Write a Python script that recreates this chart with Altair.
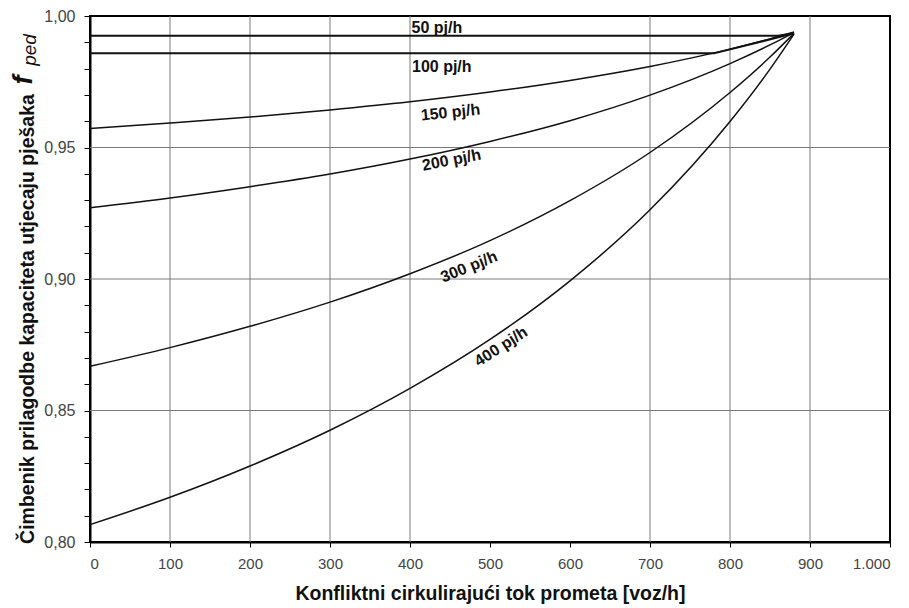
import altair as alt
import pandas as pd

# ---- data ----
x_flow = [0, 100, 200, 300, 400, 500, 600, 700, 800, 850, 880]
f150 = [0.9572, 0.9593, 0.9616, 0.9643, 0.9674, 0.9711, 0.9755, 0.9808, 0.9874, 0.9913, 0.9939]
f200 = [0.9271, 0.9308, 0.9351, 0.9399, 0.9456, 0.9523, 0.9602, 0.9699, 0.9819, 0.9890, 0.9937]
f300 = [0.8668, 0.8739, 0.8820, 0.8912, 0.9020, 0.9146, 0.9298, 0.9481, 0.9709, 0.9844, 0.9934]
f400 = [0.8066, 0.8170, 0.8289, 0.8425, 0.8584, 0.8770, 0.8993, 0.9263, 0.9599, 0.9798, 0.9931]

x50 = [0, 860, 880]
f50 = [0.9925, 0.9925, 0.9934]
x100 = [0, 780, 880]
f100 = [0.9858, 0.9858, 0.9934]

flat_labels = ["50 pj/h", "100 pj/h"]
flat_label_x = [402, 402.5]
flat_label_y = [0.99365, 0.97882]

curve_labels = ["150 pj/h", "200 pj/h", "300 pj/h", "400 pj/h"]
curve_label_x = [450.6, 452, 473.8, 513.8]
curve_label_y = [0.9633, 0.9452, 0.9046, 0.8743]
curve_label_angle = [354, 349, 338, 327]

x_grid = [100, 200, 300, 400, 700, 800, 900]
y_grid = [0.85, 0.90, 0.95]

x_ticks = [0, 100, 200, 300, 400, 500, 600, 700, 800, 900, 1000]
y_ticks = [0.80, 0.81, 0.82, 0.83, 0.84, 0.85, 0.86, 0.87, 0.88, 0.89, 0.90,
           0.91, 0.92, 0.93, 0.94, 0.95, 0.96, 0.97, 0.98, 0.99, 1.00]

x_title = "Konfliktni cirkulirajući tok prometa [voz/h]"
y_title = "Čimbenik prilagodbe kapaciteta utjecaju pješaka"

FONT = "Liberation Sans, Arial, Helvetica, sans-serif"

# ---- tables ----
curves = pd.concat([
    pd.DataFrame({"q": x_flow, "f": vals, "s": name})
    for name, vals in [("150", f150), ("200", f200), ("300", f300), ("400", f400)]
])
flats = pd.concat([
    pd.DataFrame({"q": x50, "f": f50, "s": "50"}),
    pd.DataFrame({"q": x100, "f": f100, "s": "100"}),
])
flat_lab = pd.DataFrame({"t": flat_labels, "q": flat_label_x, "f": flat_label_y})
curve_lab = pd.DataFrame({"t": curve_labels, "q": curve_label_x, "f": curve_label_y,
                          "a": curve_label_angle})

xs = alt.Scale(domain=[0, 1000], nice=False, zero=False)
ys = alt.Scale(domain=[0.80, 1.00], nice=False, zero=False)

x_axis = alt.Axis(
    values=x_ticks, grid=False, title=x_title, labelOverlap=False,
    labelExpr="datum.value >= 1000 ? '1.000' : format(datum.value, 'd')",
    labelFont=FONT, labelFontSize=15, labelColor="#444444", labelPadding=9,
    tickSize=5, tickColor="#000000", domainColor="#000000", domainWidth=2,
    titleFont=FONT, titleFontSize=19.5, titleFontWeight="bold", titleColor="#111111",
    titleX=400, titleY=57, titleBaseline="alphabetic", titleAlign="center",
)
y_axis = alt.Axis(
    values=y_ticks, grid=False, title=y_title, labelOverlap=False,
    labelExpr="abs(datum.value*20 - round(datum.value*20)) < 0.001 ? replace(format(datum.value, '.2f'), '.', ',') : ''",
    labelFont=FONT, labelFontSize=16, labelColor="#444444", labelPadding=9,
    tickSize=6, tickColor="#000000", domainColor="#000000", domainWidth=2,
    titleFont=FONT, titleFontSize=19.5, titleFontWeight="bold", titleColor="#111111",
    titleX=-57, titleY=302.5, titleAngle=270, titleBaseline="alphabetic", titleAlign="center",
)

X = alt.X("q:Q", scale=xs, axis=x_axis)
Y = alt.Y("f:Q", scale=ys, axis=y_axis)

xgrid_layer = alt.Chart(pd.DataFrame({"q": x_grid})).mark_rule(
    color="#7a7a7a", strokeWidth=1
).encode(x=X)

ygrid_layer = alt.Chart(pd.DataFrame({"f": y_grid})).mark_rule(
    color="#7a7a7a", strokeWidth=1
).encode(y=Y)

curve_layer = alt.Chart(curves).mark_line(
    color="#111111", strokeWidth=1.5, interpolate="monotone"
).encode(x=X, y=Y, detail="s:N")

flat_layer = alt.Chart(flats).mark_line(
    color="#111111", strokeWidth=2
).encode(x=X, y=Y, detail="s:N")

flat_text = alt.Chart(flat_lab).mark_text(
    align="left", baseline="alphabetic", font=FONT, fontSize=16,
    fontWeight="bold", color="#111111"
).encode(x=X, y=Y, text="t:N")

curve_text = alt.Chart(curve_lab).mark_text(
    align="center", baseline="middle", font=FONT, fontSize=16,
    fontWeight="bold", color="#111111"
).encode(x=X, y=Y, text="t:N", angle=alt.Angle("a:Q", scale=None))

f_text = alt.Chart(pd.DataFrame({"t": ["f"]})).mark_text(
    angle=270, align="center", baseline="alphabetic", font=FONT, fontSize=27,
    fontWeight="bold", fontStyle="italic", color="#111111"
).encode(x=alt.value(-58), y=alt.value(64), text="t:N")

ped_text = alt.Chart(pd.DataFrame({"t": ["ped"]})).mark_text(
    angle=270, align="center", baseline="alphabetic", font=FONT, fontSize=19,
    fontStyle="italic", color="#111111"
).encode(x=alt.value(-54), y=alt.value(34), text="t:N")

chart = alt.layer(
    xgrid_layer, ygrid_layer, curve_layer, flat_layer, flat_text, curve_text, f_text, ped_text
).properties(
    width=800, height=526,
    autosize=alt.AutoSizeParams(type="none"),
    padding={"left": 82, "top": 8, "right": 11, "bottom": 64},
    background="white",
).configure_axis(
    labelOverlap=False
).configure_view(
    stroke="#000000", strokeWidth=2
)

chart.save("out.html", embed_options={"renderer": "svg", "actions": False})
